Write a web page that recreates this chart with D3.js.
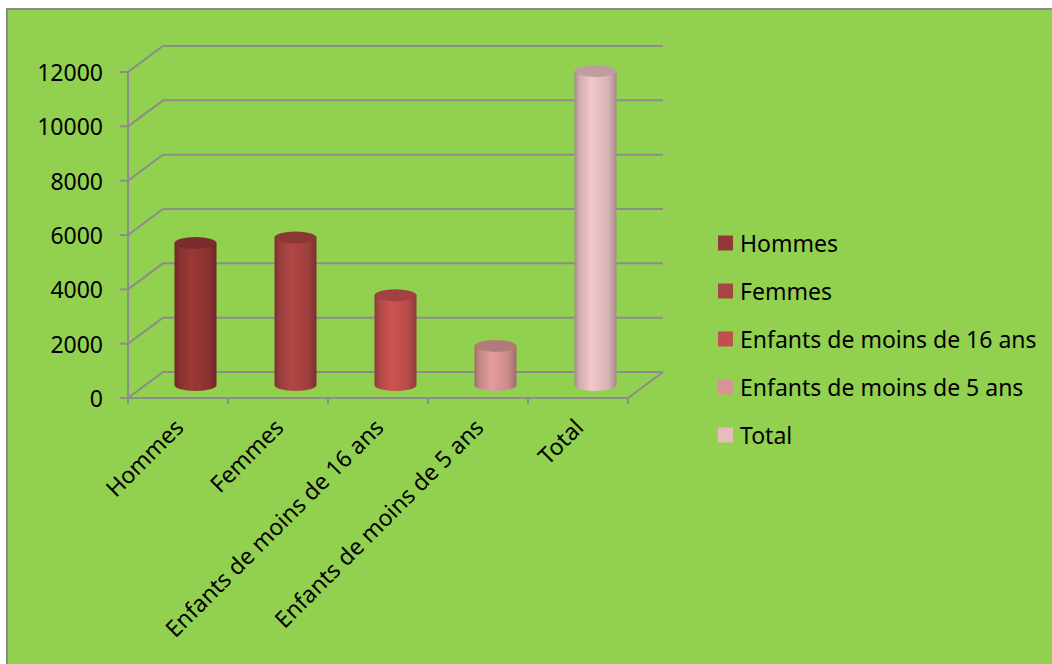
<!DOCTYPE html>
<html><head><meta charset="utf-8">
<script src="https://cdnjs.cloudflare.com/ajax/libs/d3/7.8.5/d3.min.js"></script>
<style>html,body{margin:0;padding:0;background:#fff;overflow:hidden}</style>
</head><body>
<script>
const categories = ["Hommes","Femmes","Enfants de moins de 16 ans","Enfants de moins de 5 ans","Total"];
const values = [5230, 5430, 3300, 1440, 11560];
const colors = ["#953735","#AA4442","#C4504E","#D99694","#E8C0C2"];
const legendColors = ["#953735","#A94442","#C0504D","#D69594","#E6BCBC"];
const yTicks = [0,2000,4000,6000,8000,10000,12000];

const W=1052,H=664;
const svg=d3.select("body").append("svg").attr("width",W).attr("height",H);
svg.append("rect").attr("x",7).attr("y",9).attr("width",W).attr("height",H).attr("fill","#92D050").attr("stroke","#8a8a8a").attr("stroke-width",2);

const x=d3.scaleBand().domain(categories).range([128,628]);
const y=d3.scaleLinear().domain([0,12000]).range([398,72]);
const dx=35, dy=-26;
const grid="#8c8c8c";
const font="'Noto Sans', 'Open Sans', sans-serif";
const fs=23;

const g=svg.append("g");
yTicks.forEach(t=>{
  g.append("path").attr("d",`M${x.range()[0]},${y(t)}L${x.range()[0]+dx},${y(t)+dy}L${x.range()[1]+dx},${y(t)+dy}`)
   .attr("fill","none").attr("stroke",grid).attr("stroke-width",2);
});
g.append("path").attr("d",`M${x.range()[0]},${y(0)}L${x.range()[1]},${y(0)}L${x.range()[1]+dx},${y(0)+dy}`)
  .attr("fill","none").attr("stroke",grid).attr("stroke-width",2);
g.append("line").attr("x1",128).attr("x2",128).attr("y1",y(12000)).attr("y2",y(0)+6).attr("stroke",grid).attr("stroke-width",2);
yTicks.forEach(t=>{
  g.append("line").attr("x1",120).attr("x2",128).attr("y1",y(t)).attr("y2",y(t)).attr("stroke",grid).attr("stroke-width",2);
  g.append("text").attr("x",103).attr("y",y(t)).attr("text-anchor","end").attr("dominant-baseline","central")
   .attr("font-family",font).attr("font-size",fs).attr("fill","#000").text(t);
});
const xt=categories.map(c=>x(c)).concat([x.range()[1]]);
xt.forEach(v=>g.append("line").attr("x1",v).attr("x2",v).attr("y1",y(0)).attr("y2",y(0)+6).attr("stroke",grid).attr("stroke-width",2));

const defs=svg.append("defs");
colors.forEach((c,i)=>{
  const base=d3.color(c);
  const gr=defs.append("linearGradient").attr("id","g"+i).attr("x1","0").attr("x2","1").attr("y1","0").attr("y2","0");
  gr.append("stop").attr("offset","0").attr("stop-color",base.darker(0.9));
  gr.append("stop").attr("offset","0.12").attr("stop-color",base.darker(0.3));
  gr.append("stop").attr("offset","0.4").attr("stop-color",base.brighter(0.12));
  gr.append("stop").attr("offset","0.8").attr("stop-color",base.darker(0.2));
  gr.append("stop").attr("offset","1").attr("stop-color",base.darker(0.9));
});
const rx=21, ry=6;
categories.forEach((c,i)=>{
  const cx=x(c)+x.bandwidth()/2+dx/2;
  const yb=y(0)+dy/2, yt=y(values[i])+dy/2;
  g.append("path").attr("d",`M${cx-rx},${yt}L${cx-rx},${yb}A${rx},${ry} 0 0 0 ${cx+rx},${yb}L${cx+rx},${yt}Z`)
    .attr("fill",`url(#g${i})`);
  g.append("ellipse").attr("cx",cx).attr("cy",yt).attr("rx",rx).attr("ry",ry)
    .attr("fill",d3.color(colors[i]).darker(0.55));
});
categories.forEach(c=>{
  const cx=x(c)+x.bandwidth()/2;
  g.append("text").attr("transform",`translate(${cx+7},${y(0)+31}) rotate(-45)`)
   .attr("text-anchor","end").attr("font-family",font).attr("font-size",fs).attr("fill","#000").text(c);
});
const lg=svg.append("g");
categories.forEach((c,i)=>{
  const yy=243+i*48;
  lg.append("rect").attr("x",718).attr("y",yy-7.5).attr("width",15).attr("height",15).attr("fill",legendColors[i]);
  lg.append("text").attr("x",740).attr("y",yy).attr("dominant-baseline","central")
    .attr("font-family",font).attr("font-size",fs).attr("fill","#000").text(c);
});
</script>
</body></html>
